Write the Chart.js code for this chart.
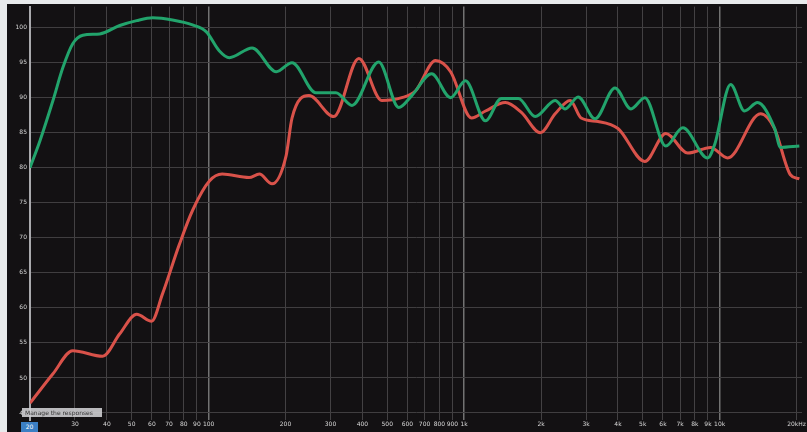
<!DOCTYPE html>
<html>
<head>
<meta charset="utf-8">
<script src="https://cdn.jsdelivr.net/npm/chart.js@4.4.1/dist/chart.umd.min.js"></script>
<style>
  html, body { margin: 0; padding: 0; background: #e8eaec; }
  #panel { position: absolute; left: 7px; top: 0px; width: 800px; height: 432px; background: #131113; }
  #topbar { position: absolute; left: 0; top: 0; width: 807px; height: 4px; background: #e8eaec; }
  #note { position: absolute; left: 22px; top: 408px; width: 80px; height: 9px; background: rgba(205,205,208,0.9);
          font: 6px "DejaVu Sans", sans-serif; color: #333; line-height: 9px; padding-left: 3px; box-sizing: border-box; white-space: nowrap; overflow: hidden; }
  #cursor { position: absolute; left: 21px; top: 422px; width: 17px; height: 10px; background: #3b7fc4;
            font: 6px "DejaVu Sans", sans-serif; color: #fff; line-height: 10px; text-align: center; }
</style>
</head>
<body>
<div id="panel"><canvas id="myChart"></canvas></div>
<div id="topbar"></div>
<div id="note">Manage the responses</div>
<div id="cursor">20</div>
<script>
const greenFreq = [20, 21.9, 24.6, 26.9, 29.4, 32.2, 37.5, 44.9, 52.3, 60.4, 72.2, 86.5, 98, 110, 120.5, 148, 184, 212, 263, 315, 364, 463, 555, 624, 746, 885, 1012, 1212, 1398, 1630, 1898, 2271, 2485, 2793, 3252, 3892, 4497, 5095, 6154, 7174, 8974, 9554, 11034, 12510, 14060, 16380, 17300, 20500];
const greenDb = [80, 83.9, 89.6, 94.3, 97.7, 98.9, 99.1, 100.3, 101, 101.4, 101.1, 100.4, 99.4, 96.7, 95.7, 97.1, 93.7, 95, 90.7, 90.7, 88.9, 95.1, 88.6, 90.3, 93.4, 90, 92.4, 86.7, 89.9, 89.9, 87.3, 89.6, 88.4, 90.1, 87, 91.4, 88.4, 90, 83.1, 85.7, 81.4, 83.3, 91.9, 88.1, 89.3, 85.7, 82.9, 83.1];

const redFreq = [20, 24.6, 29.4, 38.5, 44.9, 52.3, 59.8, 66, 76.9, 86.5, 100.7, 113, 144, 158, 177, 201, 212, 247, 309, 387, 476, 570, 646, 773, 885, 1069, 1212, 1450, 1675, 1986, 2271, 2600, 2870, 3344, 4000, 5095, 6154, 7500, 9220, 10740, 14450, 16380, 18910, 20500];
const redDb = [46.4, 50.6, 53.9, 53.1, 56.3, 59.1, 58.1, 62, 69.1, 73.9, 78.1, 79.1, 78.6, 79.1, 77.7, 81.7, 87.1, 90.3, 87.3, 95.6, 89.6, 90, 91, 95.3, 93.7, 87.1, 88.1, 89.3, 87.9, 85, 87.7, 89.6, 87.1, 86.6, 85.6, 80.9, 84.9, 82.1, 82.9, 81.4, 87.7, 85.6, 79, 78.4];

const xTickValues = [20, 30, 40, 50, 60, 70, 80, 90, 100, 200, 300, 400, 500, 600, 700, 800, 900, 1000, 2000, 3000, 4000, 5000, 6000, 7000, 8000, 9000, 10000, 20000];
const xTickLabels = ["", "30", "40", "50", "60", "70", "80", "90", "100", "200", "300", "400", "500", "600", "700", "800", "900", "1k", "2k", "3k", "4k", "5k", "6k", "7k", "8k", "9k", "10k", "20kHz"];
const yTickValues = [45, 50, 55, 60, 65, 70, 75, 80, 85, 90, 95, 100];

const toPoints = (fs, ds) => fs.map((f, i) => ({ x: f, y: ds[i] }));

const chartIt = () => {
  const ctx = document.getElementById("myChart").getContext("2d");
  Chart.defaults.font.family = "'DejaVu Sans', sans-serif";
  const myChart = new Chart(ctx, {
    type: "line",
    data: {
      datasets: [
        {
          label: "Response 1",
          data: toPoints(greenFreq, greenDb),
          borderColor: "#22a46c",
          borderWidth: 3,
          pointRadius: 0,
          cubicInterpolationMode: "monotone",
        },
        {
          label: "Response 2",
          data: toPoints(redFreq, redDb),
          borderColor: "#d9524a",
          borderWidth: 3,
          pointRadius: 0,
          cubicInterpolationMode: "monotone",
        },
      ],
    },
    options: {
      responsive: true,
      maintainAspectRatio: false,
      animation: false,
      layout: { padding: { top: 1, right: 2, left: 0, bottom: 0 } },
      plugins: { legend: { display: false }, tooltip: { enabled: false } },
      scales: {
        x: {
          type: "logarithmic",
          min: 20,
          max: 21000,
          afterBuildTicks: (scale) => {
            scale.ticks = xTickValues.map((v) => ({ value: v }));
          },
          afterFit: (scale) => { scale.height = 12; },
          ticks: {
            autoSkip: false,
            maxRotation: 0,
            padding: 1,
            color: "#d8d8d8",
            font: { size: 6 },
            callback: (value) => {
              const i = xTickValues.indexOf(value);
              return i >= 0 ? xTickLabels[i] : "";
            },
          },
          grid: {
            drawTicks: false,
            color: (c) => {
              const v = c.tick && c.tick.value;
              if (v === 100 || v === 1000 || v === 10000) return "#727272";
              return "#434143";
            },
            lineWidth: (c) => {
              const v = c.tick && c.tick.value;
              return v === 100 || v === 1000 || v === 10000 ? 1.5 : 1;
            },
          },
          border: { display: false },
        },
        y: {
          min: 44,
          max: 103,
          afterBuildTicks: (scale) => {
            scale.ticks = yTickValues.map((v) => ({ value: v }));
          },
          afterFit: (scale) => { scale.width = 23; },
          ticks: {
            padding: 3,
            color: "#d8d8d8",
            font: { size: 6 },
          },
          grid: { drawTicks: false, color: "#403e40" },
          border: { display: true, color: "#a9a9ad", width: 2 },
        },
      },
    },
  });
};

chartIt();
</script>
</body>
</html>
